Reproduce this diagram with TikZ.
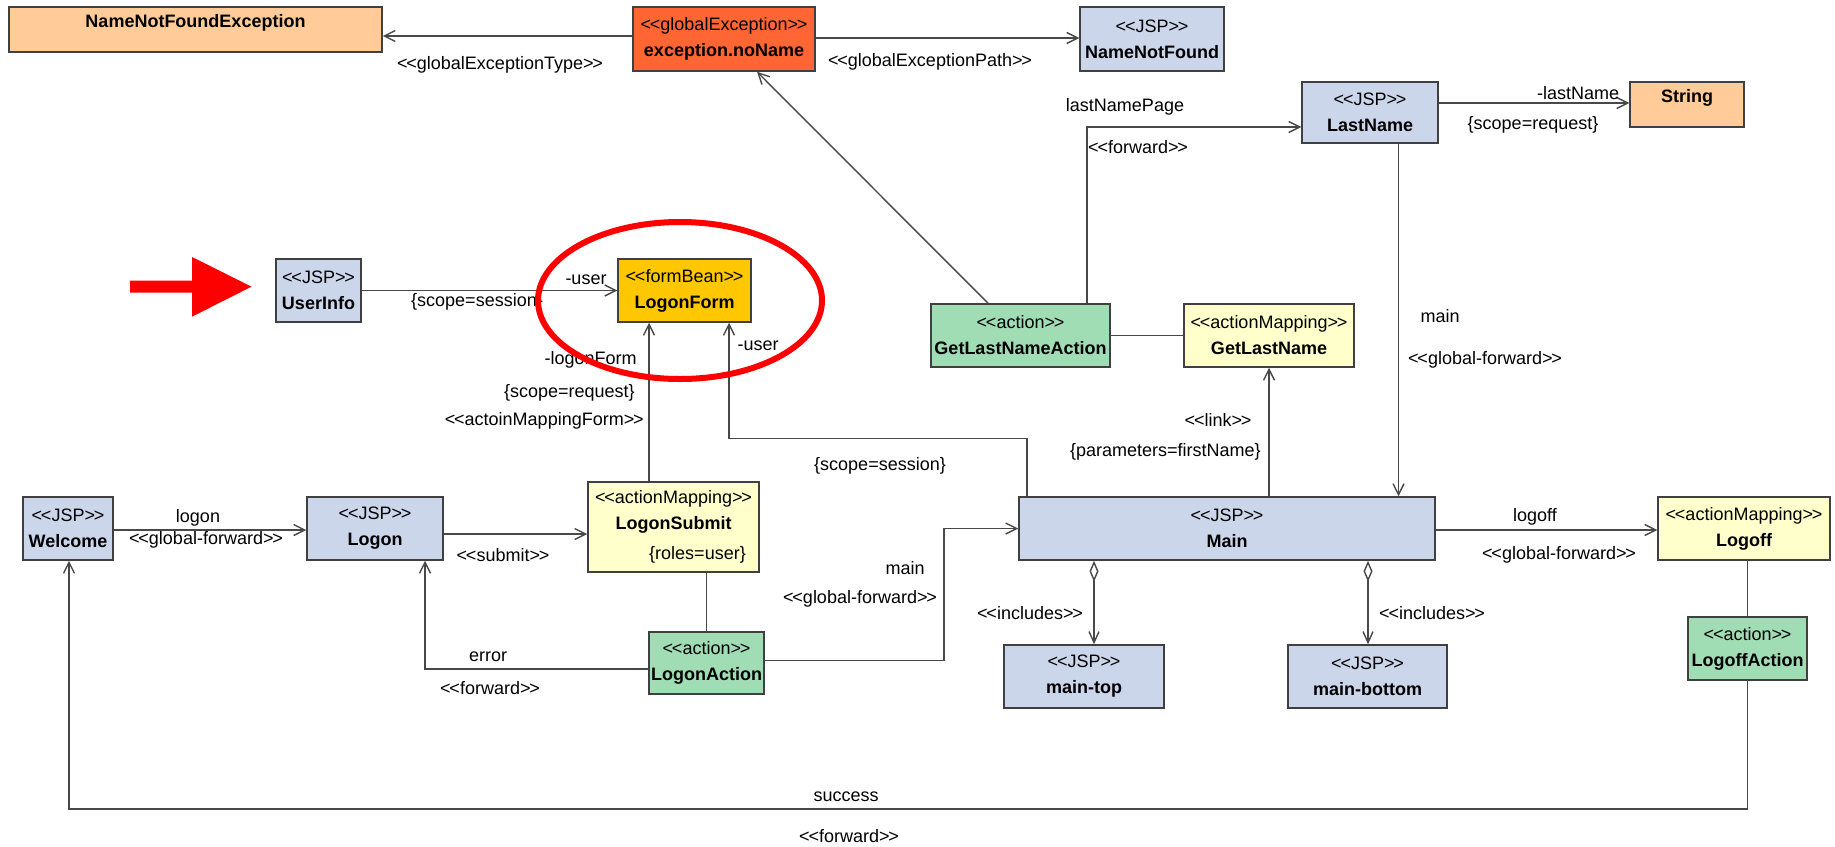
\documentclass[tikz,border=0pt]{standalone}
\usepackage{fontspec}
\setmainfont{Liberation Sans}
\usetikzlibrary{arrows.meta}
\definecolor{jsp}{RGB}{204,214,235}
\definecolor{peach}{RGB}{255,204,153}
\definecolor{excol}{RGB}{255,102,51}
\definecolor{gold}{RGB}{255,199,0}
\definecolor{amap}{RGB}{255,255,204}
\definecolor{act}{RGB}{160,221,180}
\definecolor{ln}{RGB}{72,72,72}
\definecolor{bd}{RGB}{64,64,64}
\newcommand\guo{<\kern-0.6pt<}
\newcommand\guc{>\kern-0.6pt>}
\newcommand\umlbox[7]{\node[box,#6,minimum width={(#4-#2)*0.5pt},minimum height={(#5-#3)*0.5pt}] (#1) at ({(#2+#4)/2},{(#3+#5)/2}) {#7};}
\tikzset{
  box/.style={draw=bd, line width=0.75pt, inner sep=0pt, align=center, font=\fontsize{9}{13}\selectfont},
  single/.style={text depth=9pt},
  lbl/.style={font=\fontsize{9}{11}\selectfont, inner sep=0pt},
  conn/.style={draw=ln, line width=0.7pt},
  arr/.style={conn, -{Straight Barb[length=5.5pt,width=5.5pt]}},
  agg/.style={conn, {Diamond[open,length=10.5pt,width=4.5pt]}-{Straight Barb[length=5.5pt,width=5pt]}},
}
\begin{document}
\begin{tikzpicture}[x=0.5pt,y=-0.5pt]
\useasboundingbox (0,0) rectangle (1835,846);
\fill[white] (0,0) rectangle (1835,846);

% boxes
\umlbox{nnfe}{9}{7}{382}{52}{fill=peach,single}{\textbf{NameNotFoundException}}
\umlbox{exc}{633}{7}{815}{71}{fill=excol}{\guo globalException\guc\\\textbf{exception.noName}}
\umlbox{nnf}{1080}{7}{1224}{71}{fill=jsp}{\guo JSP\guc\\\textbf{NameNotFound}}
\umlbox{lastname}{1302}{82}{1438}{143}{fill=jsp}{\guo JSP\guc\\\textbf{LastName}}
\umlbox{string}{1630}{82}{1744}{127}{fill=peach,single}{\textbf{String}}
\umlbox{userinfo}{276}{259}{361}{322}{fill=jsp}{\guo JSP\guc\\\textbf{UserInfo}}
\umlbox{logonform}{618}{259}{751}{322}{fill=gold}{\guo formBean\guc\\\textbf{LogonForm}}
\umlbox{glna}{931}{304}{1110}{367}{fill=act}{\guo action\guc\\\textbf{GetLastNameAction}}
\umlbox{gln}{1184}{304}{1354}{367}{fill=amap}{\guo actionMapping\guc\\\textbf{GetLastName}}
\umlbox{welcome}{23}{497}{113}{560}{fill=jsp}{\guo JSP\guc\\\textbf{Welcome}}
\umlbox{logon}{307}{497}{443}{560}{fill=jsp}{\guo JSP\guc\\\textbf{Logon}}
\umlbox{lsub}{588}{482}{759}{572}{fill=amap}{\guo actionMapping\guc\\\textbf{LogonSubmit}\\[2pt]\hspace*{24pt}\{roles=user\}}
\umlbox{lact}{649}{632}{764}{694}{fill=act}{\guo action\guc\\\textbf{LogonAction}}
\umlbox{main}{1019}{497}{1435}{560}{fill=jsp}{\guo JSP\guc\\\textbf{Main}}
\umlbox{logoff}{1658}{497}{1830}{560}{fill=amap}{\guo actionMapping\guc\\\textbf{Logoff}}
\umlbox{loact}{1688}{617}{1807}{680}{fill=act}{\guo action\guc\\\textbf{LogoffAction}}
\umlbox{maintop}{1004}{645}{1164}{708}{fill=jsp}{\guo JSP\guc\\\textbf{main-top}}
\umlbox{mainbot}{1288}{645}{1447}{708}{fill=jsp}{\guo JSP\guc\\\textbf{main-bottom}}

% connectors
\draw[arr] (exc.west |- 0,36) -- (nnfe.east |- 0,36);
\draw[arr] (exc.east |- 0,38) -- (nnf.west |- 0,38);
\draw[arr] (glna.north -| 988,0) -- (exc.south -| 757,0);
\draw[arr] (glna.north -| 1087,0) |- (lastname.west |- 0,127);
\draw[conn] (glna.east) -- (gln.west);
\draw[arr] (lastname.east |- 0,103) -- (string.west |- 0,103);
\draw[arr] (lastname.south -| 1398.5,0) -- (main.north -| 1398.5,0);
\draw[arr] (userinfo.east) -- (logonform.west);
\draw[arr] (lsub.north -| 649,0) -- (logonform.south -| 649,0);
\draw[arr] (main.north -| 1027,0) -- (1027,438.5) -| (logonform.south -| 729,0);
\draw[arr] (main.north -| gln.south) -- (gln.south);
\draw[arr] (welcome.east |- 0,530) -- (logon.west |- 0,530);
\draw[arr] (logon.east |- 0,534) -- (lsub.west |- 0,534);
\draw[conn] (lsub.south -| lact.north) -- (lact.north);
\draw[arr] (lact.west |- 0,669) -| (logon.south -| 425,0);
\draw[arr] (lact.east |- 0,660.5) -- (944,660.5) |- (main.west |- 0,528.5);
\draw[arr] (main.east |- 0,530) -- (logoff.west |- 0,530);
\draw[conn] (logoff.south -| loact.north) -- (loact.north);
\draw[arr] (loact.south) -- (loact.south |- 0,809) -| (welcome.south -| 69,0);
\draw[agg] (main.south -| 1094,0) -- (maintop.north -| 1094,0);
\draw[agg] (main.south -| 1368,0) -- (mainbot.north -| 1368,0);

% labels
\node[lbl] (l1) at (500,65) {\guo globalExceptionType\guc};
\node[lbl] (l2) at (930,62) {\guo globalExceptionPath\guc};
\node[lbl] (l3) at (1125,107) {lastNamePage};
\node[lbl] (l4) at (1138,147) {\guo forward\guc};
\node[lbl] (l5) at (1578,93) {-lastName};
\node[lbl] (l6) at (1533,125) {\{scope=request\}};
\node[lbl] (l7) at (1440,316) {main};
\node[lbl] (l8) at (1485,360) {\guo global-forward\guc};
\node[lbl] (l9) at (586,280) {-user};
\node[lbl] (l10) at (477,302) {\{scope=session\}};
\node[lbl,anchor=east] (l11) at (637,360) {-logonForm};
\node[lbl,anchor=east] (l12) at (635,393) {\{scope=request\}};
\node[lbl,anchor=east] (l13) at (644,421) {\guo actoinMappingForm\guc};
\node[lbl] (l14) at (758,346) {-user};
\node[lbl] (l15) at (880,466) {\{scope=session\}};
\node[lbl] (l16) at (1218,420) {\guo link\guc};
\node[lbl,anchor=east] (l17) at (1261,452) {\{parameters=firstName\}};
\node[lbl] (l18) at (198,518) {logon};
\node[lbl] (l19) at (206,540) {\guo global-forward\guc};
\node[lbl] (l20) at (503,555) {\guo submit\guc};
\node[lbl] (l21) at (488,657) {error};
\node[lbl] (l22) at (490,688) {\guo forward\guc};
\node[lbl] (l23) at (905,568) {main};
\node[lbl] (l24) at (860,599) {\guo global-forward\guc};
\node[lbl] (l25) at (1535,517) {logoff};
\node[lbl] (l26) at (1559,555) {\guo global-forward\guc};
\node[lbl] (l27) at (1030,613) {\guo includes\guc};
\node[lbl] (l28) at (1432,613) {\guo includes\guc};
\node[lbl] (l29) at (846,797) {success};
\node[lbl] (l30) at (849,836) {\guo forward\guc};

% red highlight marks
\fill[red] (130,280.7) -- (192,280.7) -- (192,257) -- (251.5,286.7) -- (192,316.7) -- (192,292.7) -- (130,292.7) -- cycle;
\draw[red, line width=3pt] (680,300.5) ellipse [x radius=71pt, y radius=39.25pt];
\end{tikzpicture}
\end{document}
